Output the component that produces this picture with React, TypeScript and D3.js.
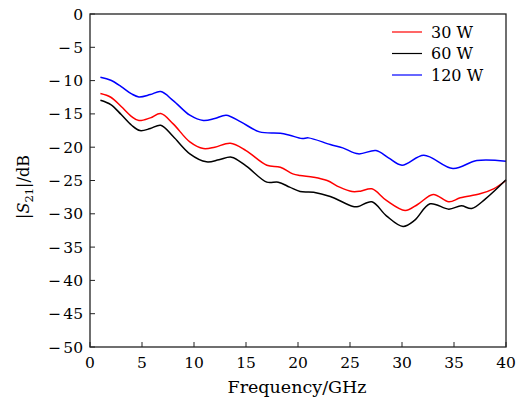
import React from "react";
import * as d3 from "d3";

const xTicks = [0, 5, 10, 15, 20, 25, 30, 35, 40];
const yTicks = [0, -5, -10, -15, -20, -25, -30, -35, -40, -45, -50];

const seriesNames = ["30 W", "60 W", "120 W"];
const seriesColors = ["#ff0000", "#000000", "#0000ff"];

const freq30 = [1, 2, 3, 4, 4.7, 5.8, 6.8, 8, 9.6, 10.9, 12, 13.5, 15, 17, 18.3, 19.5, 20.2, 21.5, 22.8, 24, 25.2, 26, 27.1, 28.5, 30.3, 31.5, 33, 34.5, 35.6, 37.5, 38.8, 40];
const s30 = [-11.95, -12.5, -13.9, -15.4, -16.0, -15.6, -14.95, -16.5, -19.2, -20.2, -20.0, -19.4, -20.5, -22.7, -23.0, -24.0, -24.25, -24.5, -25.0, -26.0, -26.65, -26.6, -26.25, -28.0, -29.5, -28.6, -27.1, -28.2, -27.6, -27.0, -26.25, -25.0];

const freq60 = [1, 2, 3, 4, 4.8, 5.8, 6.8, 8, 9.6, 11.2, 12.4, 13.6, 15, 17, 18.1, 19.2, 20.2, 21.5, 23.1, 25.3, 25.8, 27.1, 28.5, 30.1, 31.2, 32.7, 34.5, 35.7, 36.7, 38, 40];
const s60 = [-12.95, -13.6, -15.1, -16.7, -17.5, -17.2, -16.7, -18.4, -21.0, -22.2, -21.9, -21.5, -22.8, -25.25, -25.25, -26.0, -26.65, -26.75, -27.4, -28.9, -28.9, -28.2, -30.3, -31.9, -31.0, -28.5, -29.3, -28.8, -29.2, -27.8, -24.9];

const freq120 = [1, 2, 3, 4, 4.7, 5.8, 6.8, 8, 9.6, 10.9, 12, 13.1, 14.5, 16.3, 18.3, 19.2, 20.4, 21, 23.1, 24.3, 25.8, 27.5, 28.7, 30, 32.1, 34.9, 37.2, 40];
const s120 = [-9.5, -9.95, -10.9, -12.0, -12.45, -12.1, -11.65, -13.0, -15.2, -16.0, -15.7, -15.2, -16.2, -17.7, -17.9, -18.2, -18.7, -18.6, -19.6, -20.1, -21.0, -20.5, -21.6, -22.7, -21.2, -23.2, -22.0, -22.1];

const W = 517;
const H = 403;
const M = { left: 90, right: 506, top: 14, bottom: 347 };
const FONT = "'DejaVu Serif', 'Liberation Serif', serif";

export default function App() {
  const x = d3.scaleLinear().domain([0, 40]).range([M.left, M.right]);
  const y = d3.scaleLinear().domain([-50, 0]).range([M.bottom, M.top]);
  const line = d3
    .line<[number, number]>()
    .x((d) => x(d[0]))
    .y((d) => y(d[1]))
    .curve(d3.curveCatmullRom.alpha(0.5));

  const series = [
    freq30.map((f, i) => [f, s30[i]] as [number, number]),
    freq60.map((f, i) => [f, s60[i]] as [number, number]),
    freq120.map((f, i) => [f, s120[i]] as [number, number]),
  ];

  return (
    <svg
      width={W}
      height={H}
      style={{ position: "absolute", left: 0, top: 0, background: "#fff" }}
      fontFamily={FONT}
    >
      <rect x={0} y={0} width={W} height={H} fill="#fff" />
      {series.map((s, i) => (
        <path
          key={seriesNames[i]}
          d={line(s) || ""}
          fill="none"
          stroke={seriesColors[i]}
          strokeWidth={1.5}
        />
      ))}
      <rect
        x={M.left}
        y={M.top}
        width={M.right - M.left}
        height={M.bottom - M.top}
        fill="none"
        stroke="#222"
        strokeWidth={1.3}
      />
      {xTicks.map((t) => (
        <g key={"x" + t}>
          <line x1={x(t)} x2={x(t)} y1={M.bottom} y2={M.bottom - 5} stroke="#222" strokeWidth={1} />
          <text x={x(t)} y={368} textAnchor="middle" fontSize={15.5}>
            {t}
          </text>
        </g>
      ))}
      {yTicks.map((t) => (
        <g key={"y" + t}>
          <line x1={M.left} x2={M.left + 5} y1={y(t)} y2={y(t)} stroke="#222" strokeWidth={1} />
          <text x={83} y={y(t) + 5.5} textAnchor="end" fontSize={15.5}>
            {t < 0 ? (
              <>
                <tspan>−</tspan>
                <tspan dx={2}>{Math.abs(t)}</tspan>
              </>
            ) : (
              "0"
            )}
          </text>
        </g>
      ))}
      <text x={297} y={393} textAnchor="middle" fontSize={17.5}>
        Frequency/GHz
      </text>
      <text
        transform={`translate(29, 187) rotate(-90)`}
        textAnchor="middle"
        fontSize={16}
      >
        |<tspan fontStyle="italic">S</tspan>
        <tspan fontSize={11.5} dy={4}>21</tspan>
        <tspan dy={-4}>|/dB</tspan>
      </text>
      {seriesNames.map((n, i) => (
        <g key={"leg" + n}>
          <line x1={392} x2={422} y1={32 + i * 21.5} y2={32 + i * 21.5} stroke={seriesColors[i]} strokeWidth={1.2} />
          <text x={431} y={32 + i * 21.5 + 5.5} fontSize={16}>
            {n}
          </text>
        </g>
      ))}
    </svg>
  );
}
